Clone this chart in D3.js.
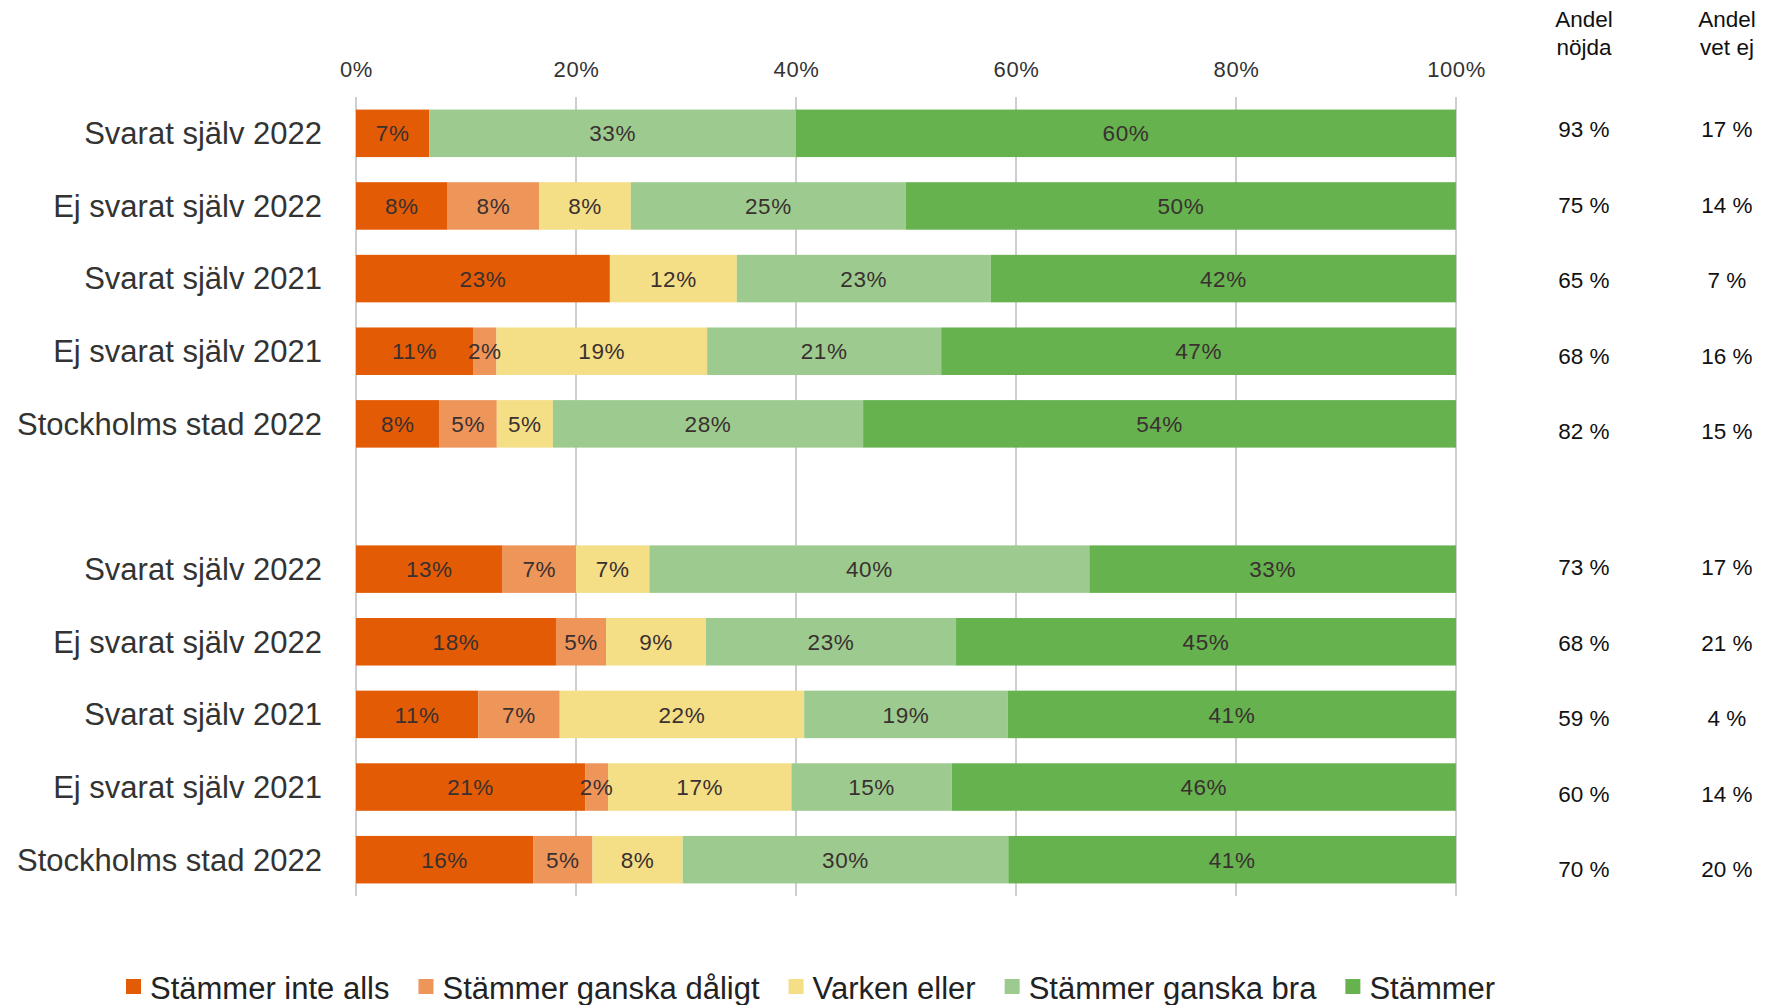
<!DOCTYPE html>
<html>
<head>
<meta charset="utf-8">
<script src="https://cdn.jsdelivr.net/npm/d3@7"></script>
<style>
  html, body { margin: 0; padding: 0; background: #fff; }
  svg { display: block; font-family: "Liberation Sans", Arial, sans-serif; }
</style>
</head>
<body>
<svg id="chart" width="1770" height="1005"></svg>
<script>
// ---- Data ----
const categories = ["Svarat själv 2022", "Ej svarat själv 2022", "Svarat själv 2021", "Ej svarat själv 2021", "Stockholms stad 2022"];
const groups = ["A", "B"];
const series = ["Stämmer inte alls", "Stämmer ganska dåligt", "Varken eller", "Stämmer ganska bra", "Stämmer"];
const colors = ["#E35B05", "#EE955A", "#F4DE86", "#9DCB8F", "#65B24E"];
// values per row (group A rows 0-4, group B rows 5-9), percent
const stammerInteAlls     = [6.67, 8.33, 23.08, 10.64, 7.6, 13.33, 18.18, 11.11, 20.83, 16.1];
const stammerGanskaDaligt = [0,    8.33, 0,     2.13,  5.2, 6.67,  4.55,  7.41,  2.08,  5.4];
const varkenEller         = [0,    8.33, 11.54, 19.15, 5.1, 6.67,  9.09,  22.22, 16.67, 8.2];
const stammerGanskaBra    = [33.33, 25,  23.08, 21.28, 28.2, 40,   22.73, 18.52, 14.58, 29.6];
const stammer             = [60,   50,   42.31, 46.81, 53.9, 33.33, 45.45, 40.74, 45.83, 40.7];
const andelNojda = [93, 75, 65, 68, 82, 73, 68, 59, 60, 70];
const andelVetEj = [17, 14, 7, 16, 15, 17, 21, 4, 14, 20];
const xTicks = [0, 20, 40, 60, 80, 100];
const colHeaders = [["Andel", "nöjda"], ["Andel", "vet ej"]];

// ---- Build rows ----
const seriesValues = [stammerInteAlls, stammerGanskaDaligt, varkenEller, stammerGanskaBra, stammer];
const rows = [];
groups.forEach((g, gi) => {
  categories.forEach((c, ci) => {
    const idx = gi * categories.length + ci;
    const row = { key: g + ci, group: g, label: c, idx };
    series.forEach((s, si) => row[s] = seriesValues[si][idx]);
    rows.push(row);
  });
});
const slotDomain = [...rows.filter(r => r.group === "A").map(r => r.key), "gap", ...rows.filter(r => r.group === "B").map(r => r.key)];

const svg = d3.select("#chart");
const x = d3.scaleLinear().domain([0, 100]).range([356, 1456]);
const y = d3.scaleBand().domain(slotDomain).range([97, 896]).paddingInner(0.346).paddingOuter(0.173);

// gridlines
svg.append("g").selectAll("line").data(xTicks).join("line")
  .attr("x1", d => x(d)).attr("x2", d => x(d))
  .attr("y1", 97).attr("y2", 896)
  .attr("stroke", "#b4b4b4").attr("stroke-width", 1.3);

// top axis labels
const axis = d3.axisTop(x).tickValues(xTicks).tickFormat(d => d + "%").tickSize(0).tickPadding(0);
const ax = svg.append("g").attr("transform", "translate(0,77)").call(axis);
ax.select(".domain").remove();
ax.selectAll("text").attr("font-size", 22).attr("fill", "#333").attr("letter-spacing", "0.6px")
  .attr("font-family", "'Liberation Sans', Arial, sans-serif").attr("dy", 0);

// stacked bars
const stacked = d3.stack().keys(series)(rows);
const fmt = d3.format(".0f");
const layers = svg.append("g").selectAll("g").data(stacked).join("g")
  .attr("fill", (d, i) => colors[i]);
layers.selectAll("rect").data(d => d).join("rect")
  .attr("x", d => x(d[0]))
  .attr("width", d => x(d[1]) - x(d[0]))
  .attr("y", d => y(d.data.key))
  .attr("height", y.bandwidth());

const labelG = svg.append("g");
stacked.forEach(layer => {
  labelG.selectAll(null).data(layer.filter(d => d[1] - d[0] > 0)).join("text")
    .attr("x", d => (x(d[0]) + x(d[1])) / 2)
    .attr("y", d => y(d.data.key) + y.bandwidth() / 2)
    .attr("dy", "0.36em")
    .attr("text-anchor", "middle")
    .attr("font-size", 22.5)
    .attr("letter-spacing", "0.6px")
    .attr("fill", "#3a3030")
    .text(d => fmt(d[1] - d[0]) + "%");
});

// category labels
svg.append("g").selectAll("text").data(rows).join("text")
  .attr("x", 322)
  .attr("y", d => y(d.key) + y.bandwidth() / 2)
  .attr("dy", "0.35em")
  .attr("text-anchor", "end")
  .attr("font-size", 31)
  .attr("fill", "#333")
  .text(d => d.label);

// right columns
const colX = [1584, 1727];
const yRight = {
  A: d3.scalePoint().domain(categories).range([129, 431]),
  B: d3.scalePoint().domain(categories).range([567, 869])
};
colHeaders.forEach((h, i) => {
  svg.append("text").attr("x", colX[i]).attr("y", 27).attr("text-anchor", "middle")
    .attr("font-size", 22.5).attr("fill", "#111").text(h[0]);
  svg.append("text").attr("x", colX[i]).attr("y", 55).attr("text-anchor", "middle")
    .attr("font-size", 22.5).attr("fill", "#111").text(h[1]);
});
[andelNojda, andelVetEj].forEach((vals, ci) => {
  svg.append("g").selectAll("text").data(rows).join("text")
    .attr("x", colX[ci])
    .attr("y", d => yRight[d.group](d.label))
    .attr("dy", "0.36em")
    .attr("text-anchor", "middle")
    .attr("font-size", 22.5)
    .attr("fill", "#111")
    .text(d => vals[d.idx] + " %");
});

// legend
const legend = svg.append("g");
let lx = 126;
series.forEach((s, i) => {
  legend.append("rect").attr("x", lx).attr("y", 979).attr("width", 15).attr("height", 15).attr("fill", colors[i]);
  const t = legend.append("text").attr("x", lx + 24).attr("y", 999)
    .attr("font-size", 31).attr("fill", "#222").text(s);
  lx = lx + 24 + t.node().getComputedTextLength() + 29;
});
</script>
</body>
</html>
